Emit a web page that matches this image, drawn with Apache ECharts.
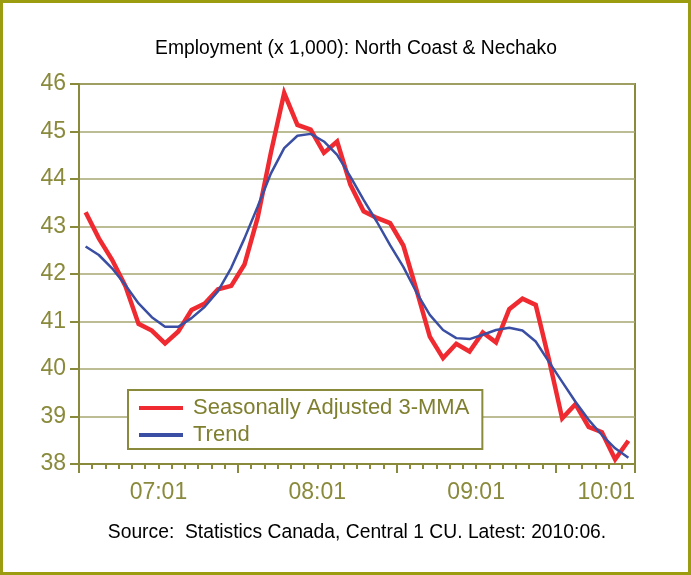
<!DOCTYPE html>
<html>
<head>
<meta charset="utf-8">
<script src="https://cdn.jsdelivr.net/npm/echarts@6/dist/echarts.min.js"></script>
<style>
  html, body { margin: 0; padding: 0; background: #ffffff; }
  #chart { width: 691px; height: 575px; }
</style>
</head>
<body>
<div id="chart"></div>
<script>
// Monthly periods, 2007:01 through 2010:06
const months = [];
for (let y = 2007; y <= 2010; y++) {
  for (let m = 1; m <= 12; m++) {
    if (y === 2010 && m > 6) break;
    months.push(String(y) + ':' + String(m).padStart(2, '0'));
  }
}

// Employment, thousands
const seasonallyAdjusted3MMA = [
  43.30, 42.75, 42.30, 41.75, 40.95, 40.81, 40.54, 40.79, 41.24, 41.38,
  41.68, 41.75, 42.20, 43.19, 44.56, 45.81, 45.14, 45.04, 44.55, 44.79,
  43.88, 43.32, 43.18, 43.07, 42.60, 41.66, 40.68, 40.23, 40.53, 40.37,
  40.77, 40.56, 41.26, 41.48, 41.35, 40.20, 38.96, 39.26, 38.78, 38.67,
  38.10, 38.49
];
const trend = [
  42.58, 42.40, 42.12, 41.77, 41.38, 41.09, 40.89, 40.89, 41.07, 41.31,
  41.64, 42.13, 42.75, 43.42, 44.12, 44.65, 44.91, 44.95, 44.79, 44.51,
  44.05, 43.56, 43.10, 42.61, 42.15, 41.61, 41.14, 40.82, 40.65, 40.63,
  40.72, 40.82, 40.87, 40.81, 40.58, 40.15, 39.73, 39.31, 38.93, 38.61,
  38.33, 38.13
];

const seriesNames = ['Seasonally Adjusted 3-MMA', 'Trend'];
const yMin = 38, yMax = 46, yStep = 1;
const yearSpan = 12;

// Short "yy:mm" label for the first month of each year group
const shortLabel = (period) => period.slice(2);

const olive = '#8a8a3c';
const oliveGrid = '#a6a672';
const font = 'Liberation Sans, Arial, sans-serif';

const chart = echarts.init(document.getElementById('chart'), null, { renderer: 'canvas' });

chart.setOption({
  backgroundColor: '#ffffff',
  animation: false,
  title: [
    {
      text: 'Employment (x 1,000): North Coast & Nechako',
      left: 351, top: 34, textAlign: 'center',
      textStyle: { fontFamily: font, fontSize: 19.3, fontWeight: 'normal', color: '#000000' }
    },
    {
      text: 'Source:  Statistics Canada, Central 1 CU. Latest: 2010:06.',
      left: 352, top: 518, textAlign: 'center',
      textStyle: { fontFamily: font, fontSize: 19.3, fontWeight: 'normal', color: '#000000' }
    }
  ],
  graphic: [
    {
      type: 'rect', z: 100, silent: true,
      shape: { x: 1.5, y: 1.5, width: 688, height: 572 },
      style: { fill: 'none', stroke: '#9c9c10', lineWidth: 3 }
    }
  ],
  legend: {
    orient: 'vertical',
    left: 128, top: 390,
    padding: [6, 13, 2, 11],
    itemGap: 3,
    itemWidth: 44, itemHeight: 4,
    icon: 'rect',
    backgroundColor: '#ffffff',
    borderColor: olive, borderWidth: 2,
    textStyle: { fontFamily: font, fontSize: 22, color: '#7f7f30', lineHeight: 24, padding: [0, 0, 0, 5] },
    data: [
      { name: seriesNames[0], itemStyle: { color: '#ef2a30' } },
      { name: seriesNames[1], itemStyle: { color: '#3a4fa3' } }
    ]
  },
  grid: {
    left: 79, right: 56, top: 84, bottom: 111,
    show: true, borderColor: olive, borderWidth: 2, backgroundColor: 'transparent'
  },
  xAxis: [
    {
      // data axis with a short tick per month
      type: 'category', data: months, boundaryGap: true, position: 'bottom',
      axisLine: { show: true, onZero: false, lineStyle: { color: olive, width: 2 } },
      axisTick: { show: true, interval: 0, length: 5, lineStyle: { color: olive, width: 2 } },
      axisLabel: { show: false },
      splitLine: { show: false }
    },
    {
      // longer ticks at each year boundary
      type: 'category', data: months, boundaryGap: true, position: 'bottom',
      axisLine: { show: false, onZero: false },
      axisTick: { show: true, interval: (i) => i % yearSpan === 0, length: 9, lineStyle: { color: olive, width: 2 } },
      axisLabel: { show: false },
      splitLine: { show: false }
    },
    {
      // year labels centred under each 12-month group
      type: 'value', min: 0, max: months.length, interval: yearSpan / 2, position: 'bottom',
      axisLine: { show: false, onZero: false },
      axisTick: { show: false },
      splitLine: { show: false },
      axisLabel: {
        margin: 17,
        fontFamily: font, fontSize: 23, color: olive,
        alignMaxLabel: 'right',
        showMaxLabel: true, showMinLabel: false,
        formatter: (v) => {
          if (v % yearSpan === yearSpan / 2) return shortLabel(months[v - yearSpan / 2]);
          if (v === months.length) {
            const start = Math.floor((months.length - 1) / yearSpan) * yearSpan;
            return shortLabel(months[start]);
          }
          return '';
        }
      }
    }
  ],
  yAxis: {
    type: 'value', min: yMin, max: yMax, interval: yStep,
    axisLine: { show: true, onZero: false, lineStyle: { color: olive, width: 2 } },
    axisTick: { show: true, length: 9, lineStyle: { color: olive, width: 2 } },
    axisLabel: { margin: 13, fontFamily: font, fontSize: 23, color: olive },
    splitLine: { show: true, lineStyle: { color: oliveGrid, width: 1.5 } }
  },
  series: [
    {
      name: seriesNames[0], type: 'line', xAxisIndex: 0,
      data: seasonallyAdjusted3MMA,
      symbol: 'none', smooth: false,
      lineStyle: { color: '#ef2a30', width: 4.5, join: 'miter' },
      itemStyle: { color: '#ef2a30' },
      z: 3
    },
    {
      name: seriesNames[1], type: 'line', xAxisIndex: 0,
      data: trend,
      symbol: 'none', smooth: false,
      lineStyle: { color: '#3a4fa3', width: 2.5 },
      itemStyle: { color: '#3a4fa3' },
      z: 4
    }
  ]
});
</script>
</body>
</html>
